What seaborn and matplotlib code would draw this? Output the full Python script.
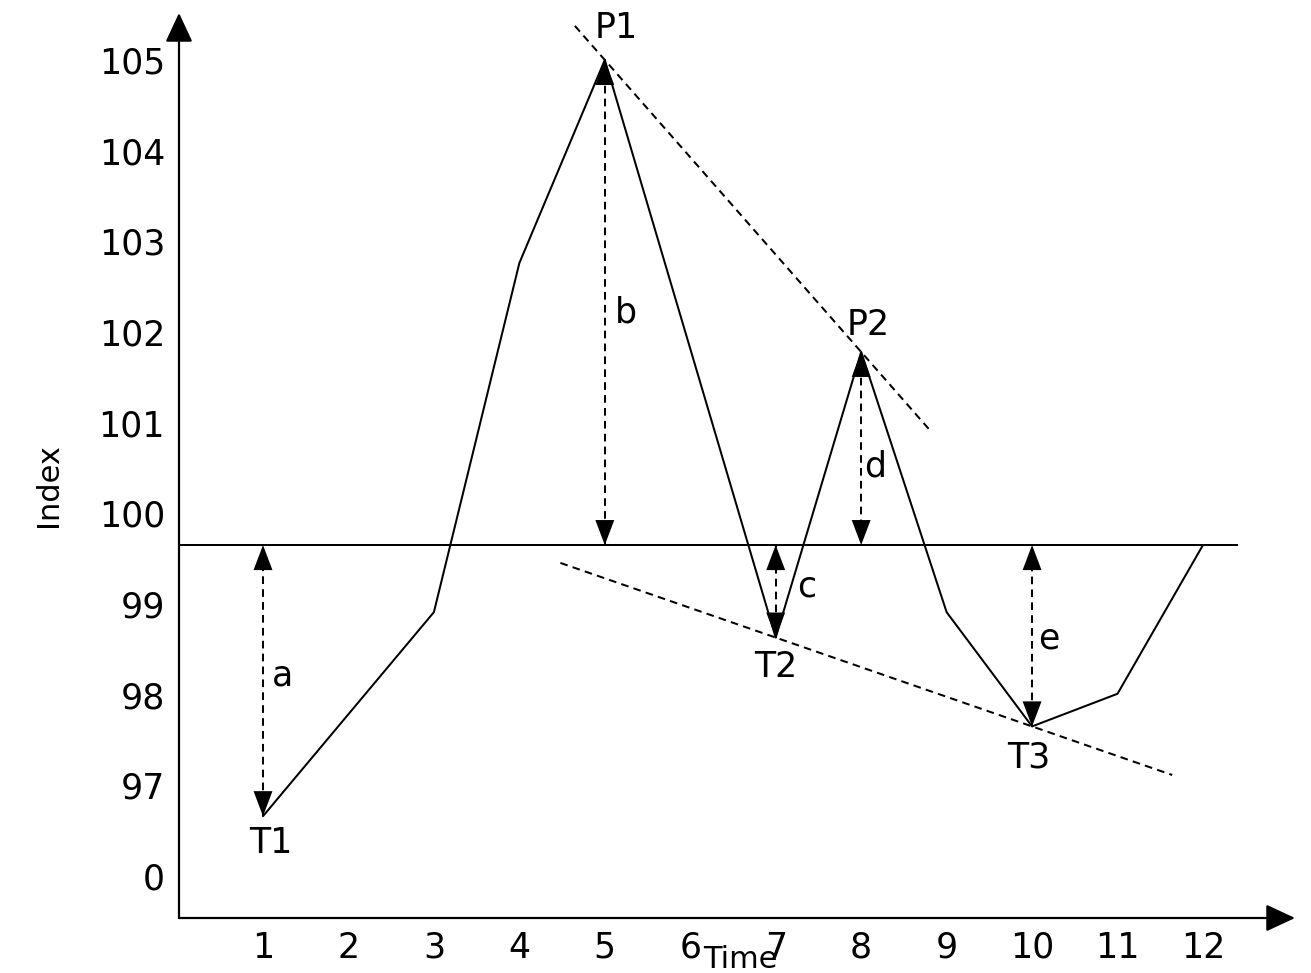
import matplotlib
matplotlib.use('Agg')
import matplotlib.pyplot as plt
import seaborn as sns
import pandas as pd

sns.set_theme(style='white')
plt.rcParams['font.family'] = ['DejaVu Sans']

# ---- data ----
time = [1, 3, 4, 5, 7, 8, 9, 10, 11, 12]
index_vals = [96.66, 98.91, 102.76, 105.0, 98.63, 101.78, 98.91, 97.65, 98.01, 99.65]
baseline = 99.65
x_ticks = [1, 2, 3, 4, 5, 6, 7, 8, 9, 10, 11, 12]
y_tick_pos = [96, 97, 98, 99, 100, 101, 102, 103, 104, 105]
y_tick_labels = ['0', '97', '98', '99', '100', '101', '102', '103', '104', '105']
point_names = ['T1', 'P1', 'T2', 'P2', 'T3']
point_x = [1, 5, 7, 8, 10]
point_y = [96.66, 105.0, 98.63, 101.78, 97.65]
gap_names = ['a', 'b', 'c', 'd', 'e']

df = pd.DataFrame({'Time': time, 'Index': index_vals})

LW = 1.45
DASH = (0, (3.8, 2.6))
FS = 25

fig = plt.figure(figsize=(13.11, 9.73), dpi=100)
ax = fig.add_axes([179/1311, 55/973, 1116/1311, 905/973])

sns.lineplot(data=df, x='Time', y='Index', sort=False, color='black', lw=LW, ax=ax)

xmin, xmax = 0.017, 13.077
ymin, ymax = 95.537, 105.518
ax.set_xlim(xmin, xmax)
ax.set_ylim(ymin, ymax)

# baseline
ax.hlines(baseline, xmin, 12.41, color='black', lw=LW)

# trend lines through peaks and troughs
def trend(p, q, x0, x1):
    (xa, ya), (xb, yb) = p, q
    s = (yb - ya) / (xb - xa)
    ax.plot([x0, x1], [ya + s * (x0 - xa), ya + s * (x1 - xa)],
            color='black', lw=LW, ls=DASH)

trend((point_x[1], point_y[1]), (point_x[3], point_y[3]), 4.65, 8.81)
trend((point_x[2], point_y[2]), (point_x[4], point_y[4]), 4.48, 11.64)

# dashed double arrows
for xv, yv in zip(point_x, point_y):
    ax.plot([xv, xv], [yv, baseline], color='black', lw=LW, ls=DASH)
    for tip, tail in ((yv, baseline), (baseline, yv)):
        ax.annotate('', xy=(xv, tip), xytext=(xv, tail),
                    arrowprops=dict(arrowstyle='-|>,head_length=0.9,head_width=0.34',
                                    color='black', lw=0.01, mutation_scale=20,
                                    shrinkA=0, shrinkB=0))

# gap letters
letter_pos = [(98.21, 20), (102.22, 21), (99.19, 31), (100.52, 14), (98.62, 17)]
for name, xv, (ly, dx) in zip(gap_names, point_x, letter_pos):
    ax.annotate(name, xy=(xv, ly), xytext=(dx * 0.72, 0), textcoords='offset points',
                ha='center', va='center', fontsize=FS, color='black')

# point labels
offsets = [(8, -27), (11, 32), (0, -29), (7, 27), (-3, -31)]
for name, xv, yv, (dx, dy) in zip(point_names, point_x, point_y, offsets):
    ax.annotate(name, xy=(xv, yv), xytext=(dx * 0.72, dy * 0.72), textcoords='offset points',
                ha='center', va='center', fontsize=FS, color='black')

# axes as arrows
for s in ax.spines.values():
    s.set_visible(False)
for end in ((1, 0), (0, 1)):
    ax.annotate('', xy=end, xytext=(0, 0), xycoords='axes fraction',
                arrowprops=dict(arrowstyle='-|>,head_length=0.9,head_width=0.42',
                                color='black', lw=1.6, mutation_scale=20,
                                shrinkA=0, shrinkB=0), annotation_clip=False)

ax.set_xticks(x_ticks)
ax.set_xticklabels([str(t) for t in x_ticks])
ax.set_yticks(y_tick_pos)
ax.set_yticklabels(y_tick_labels)
ax.tick_params(axis='both', length=0, labelsize=FS, colors='black')
ax.tick_params(axis='x', pad=9)
ax.tick_params(axis='y', pad=10)
ax.grid(False)

ax.set_xlabel('Time', fontsize=22, color='black', va='center')
ax.xaxis.set_label_coords((740 - 179) / 1116, -(960 - 918) / 905)
ax.set_ylabel('Index', fontsize=22, color='black', va='center')
ax.yaxis.set_label_coords(-(179 - 48) / 1116, (918 - 485) / 905)

fig.savefig('out.png', dpi=100, facecolor='white')
